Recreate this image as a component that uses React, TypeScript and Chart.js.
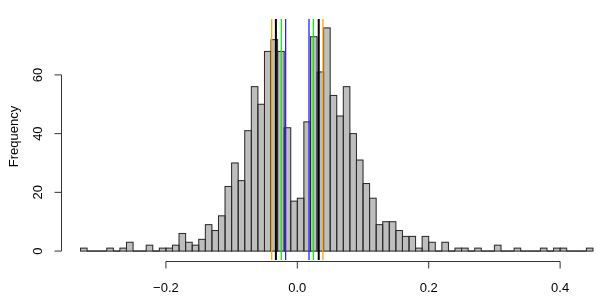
import React, { useEffect, useRef } from "react";
import { Chart, registerables } from "chart.js";

Chart.register(...registerables);

// Histogram bins: start of first bin and bin width
const binStart = -0.33;
const binWidth = 0.01;
// Counts per bin (78 bins from -0.33 to 0.45)
const counts = [
  1, 0, 0, 0, 1, 0, 1, 3, 0, 0,
  2, 0, 1, 1, 2, 6, 3, 2, 4, 9,
  7, 12, 22, 30, 24, 41, 56, 50, 68, 72,
  68, 42, 17, 18, 44, 73, 61, 76, 53, 46,
  56, 40, 31, 23, 18, 9, 10, 10, 7, 5,
  5, 1, 5, 3, 0, 3, 0, 1, 1, 0,
  1, 0, 0, 2, 0, 0, 1, 0, 0, 0,
  1, 0, 1, 1, 0, 0, 0, 1,
];

const xTickValues = [-0.2, 0.0, 0.2, 0.4];
const xTickLabels = ["\u22120.2", "0.0", "0.2", "0.4"];
const yTickValues = [0, 20, 40, 60];
const yTickLabels = ["0", "20", "40", "60"];
const yTitle = "Frequency";

// Vertical reference lines
const lineValues = [-0.039, -0.0326, -0.0244, -0.0178, 0.0178, 0.0244, 0.0326, 0.039];
const lineColors = ["#FFA500", "#000000", "#22DD22", "#2222FF", "#2222FF", "#22DD22", "#000000", "#FFA500"];
const lineWidths = [1.3, 2, 1.3, 1.3, 1.3, 1.3, 2, 1.3];

const FONT = "13px 'Liberation Sans', Arial, sans-serif";

export default function App() {
  const ref = useRef<HTMLCanvasElement | null>(null);

  useEffect(() => {
    document.body.style.margin = "0";
    const canvas = ref.current!;
    const data = counts.map((c, i) => ({ x: binStart + binWidth * (i + 0.5), y: c }));

    const rStyle = {
      id: "rStyle",
      afterDatasetsDraw(chart: any) {
        const ctx = chart.ctx;
        const xs = chart.scales.x;
        const ys = chart.scales.y;
        const area = chart.chartArea;
        // bar outlines (R style, including zero-height bins)
        const meta = chart.getDatasetMeta(0);
        ctx.save();
        ctx.strokeStyle = "#2a2a2a";
        ctx.lineWidth = 1;
        meta.data.forEach((el: any) => {
          const p = el.getProps(["x", "y", "base", "width"], true);
          ctx.strokeRect(p.x - p.width / 2, p.y, p.width, p.base - p.y);
        });
        ctx.restore();

        // vertical lines
        ctx.save();
        lineValues.forEach((v, i) => {
          const px = xs.getPixelForValue(v);
          ctx.beginPath();
          ctx.strokeStyle = lineColors[i];
          ctx.lineWidth = lineWidths[i];
          ctx.moveTo(px, area.top);
          ctx.lineTo(px, area.bottom);
          ctx.stroke();
        });
        ctx.restore();

        // axes
        ctx.save();
        ctx.strokeStyle = "#333";
        ctx.fillStyle = "#000";
        ctx.lineWidth = 1;
        ctx.font = FONT;
        // x axis
        const axY = area.bottom + 1.5;
        const x0 = xs.getPixelForValue(xTickValues[0]);
        const x1 = xs.getPixelForValue(xTickValues[xTickValues.length - 1]);
        ctx.beginPath();
        ctx.moveTo(x0, axY);
        ctx.lineTo(x1, axY);
        xTickValues.forEach((v) => {
          const px = xs.getPixelForValue(v);
          ctx.moveTo(px, axY);
          ctx.lineTo(px, axY + 7);
        });
        ctx.stroke();
        ctx.textAlign = "center";
        ctx.textBaseline = "middle";
        xTickValues.forEach((v, i) => {
          ctx.fillText(xTickLabels[i], xs.getPixelForValue(v), 288);
        });
        // y axis
        const axX = area.left + 1.5;
        const y0 = ys.getPixelForValue(yTickValues[0]);
        const y1 = ys.getPixelForValue(yTickValues[yTickValues.length - 1]);
        ctx.beginPath();
        ctx.moveTo(axX, y0);
        ctx.lineTo(axX, y1);
        yTickValues.forEach((v) => {
          const py = ys.getPixelForValue(v);
          ctx.moveTo(axX, py);
          ctx.lineTo(axX - 7, py);
        });
        ctx.stroke();
        yTickValues.forEach((v, i) => {
          const py = ys.getPixelForValue(v);
          ctx.save();
          ctx.translate(38, py);
          ctx.rotate(-Math.PI / 2);
          ctx.fillText(yTickLabels[i], 0, 0);
          ctx.restore();
        });
        ctx.save();
        ctx.translate(14, (area.top + area.bottom) / 2 - 3);
        ctx.rotate(-Math.PI / 2);
        ctx.fillText(yTitle, 0, 0);
        ctx.restore();
        ctx.restore();
      },
    };

    const chart = new Chart(canvas, {
      type: "bar",
      data: {
        datasets: [
          {
            data: data as any,
            backgroundColor: "#BEBEBE",
            borderWidth: 0,
            barPercentage: 1,
            categoryPercentage: 1,
            grouped: false,
          } as any,
        ],
      },
      options: {
        animation: false,
        responsive: false,
        maintainAspectRatio: false,
        layout: { padding: { left: 60, right: 0, top: 19, bottom: 47 } },
        plugins: { legend: { display: false }, tooltip: { enabled: false } },
        scales: {
          x: { type: "linear", min: -0.3612, max: 0.4607, display: false, offset: false },
          y: { min: -3.04, max: 79.04, display: false },
        },
      },
      plugins: [rStyle],
    });
    return () => chart.destroy();
  }, []);

  return (
    <div style={{ position: "absolute", left: 0, top: 0, width: 600, height: 307, background: "#fff" }}>
      <canvas ref={ref} width={600} height={307} style={{ width: 600, height: 307 }} />
    </div>
  );
}
